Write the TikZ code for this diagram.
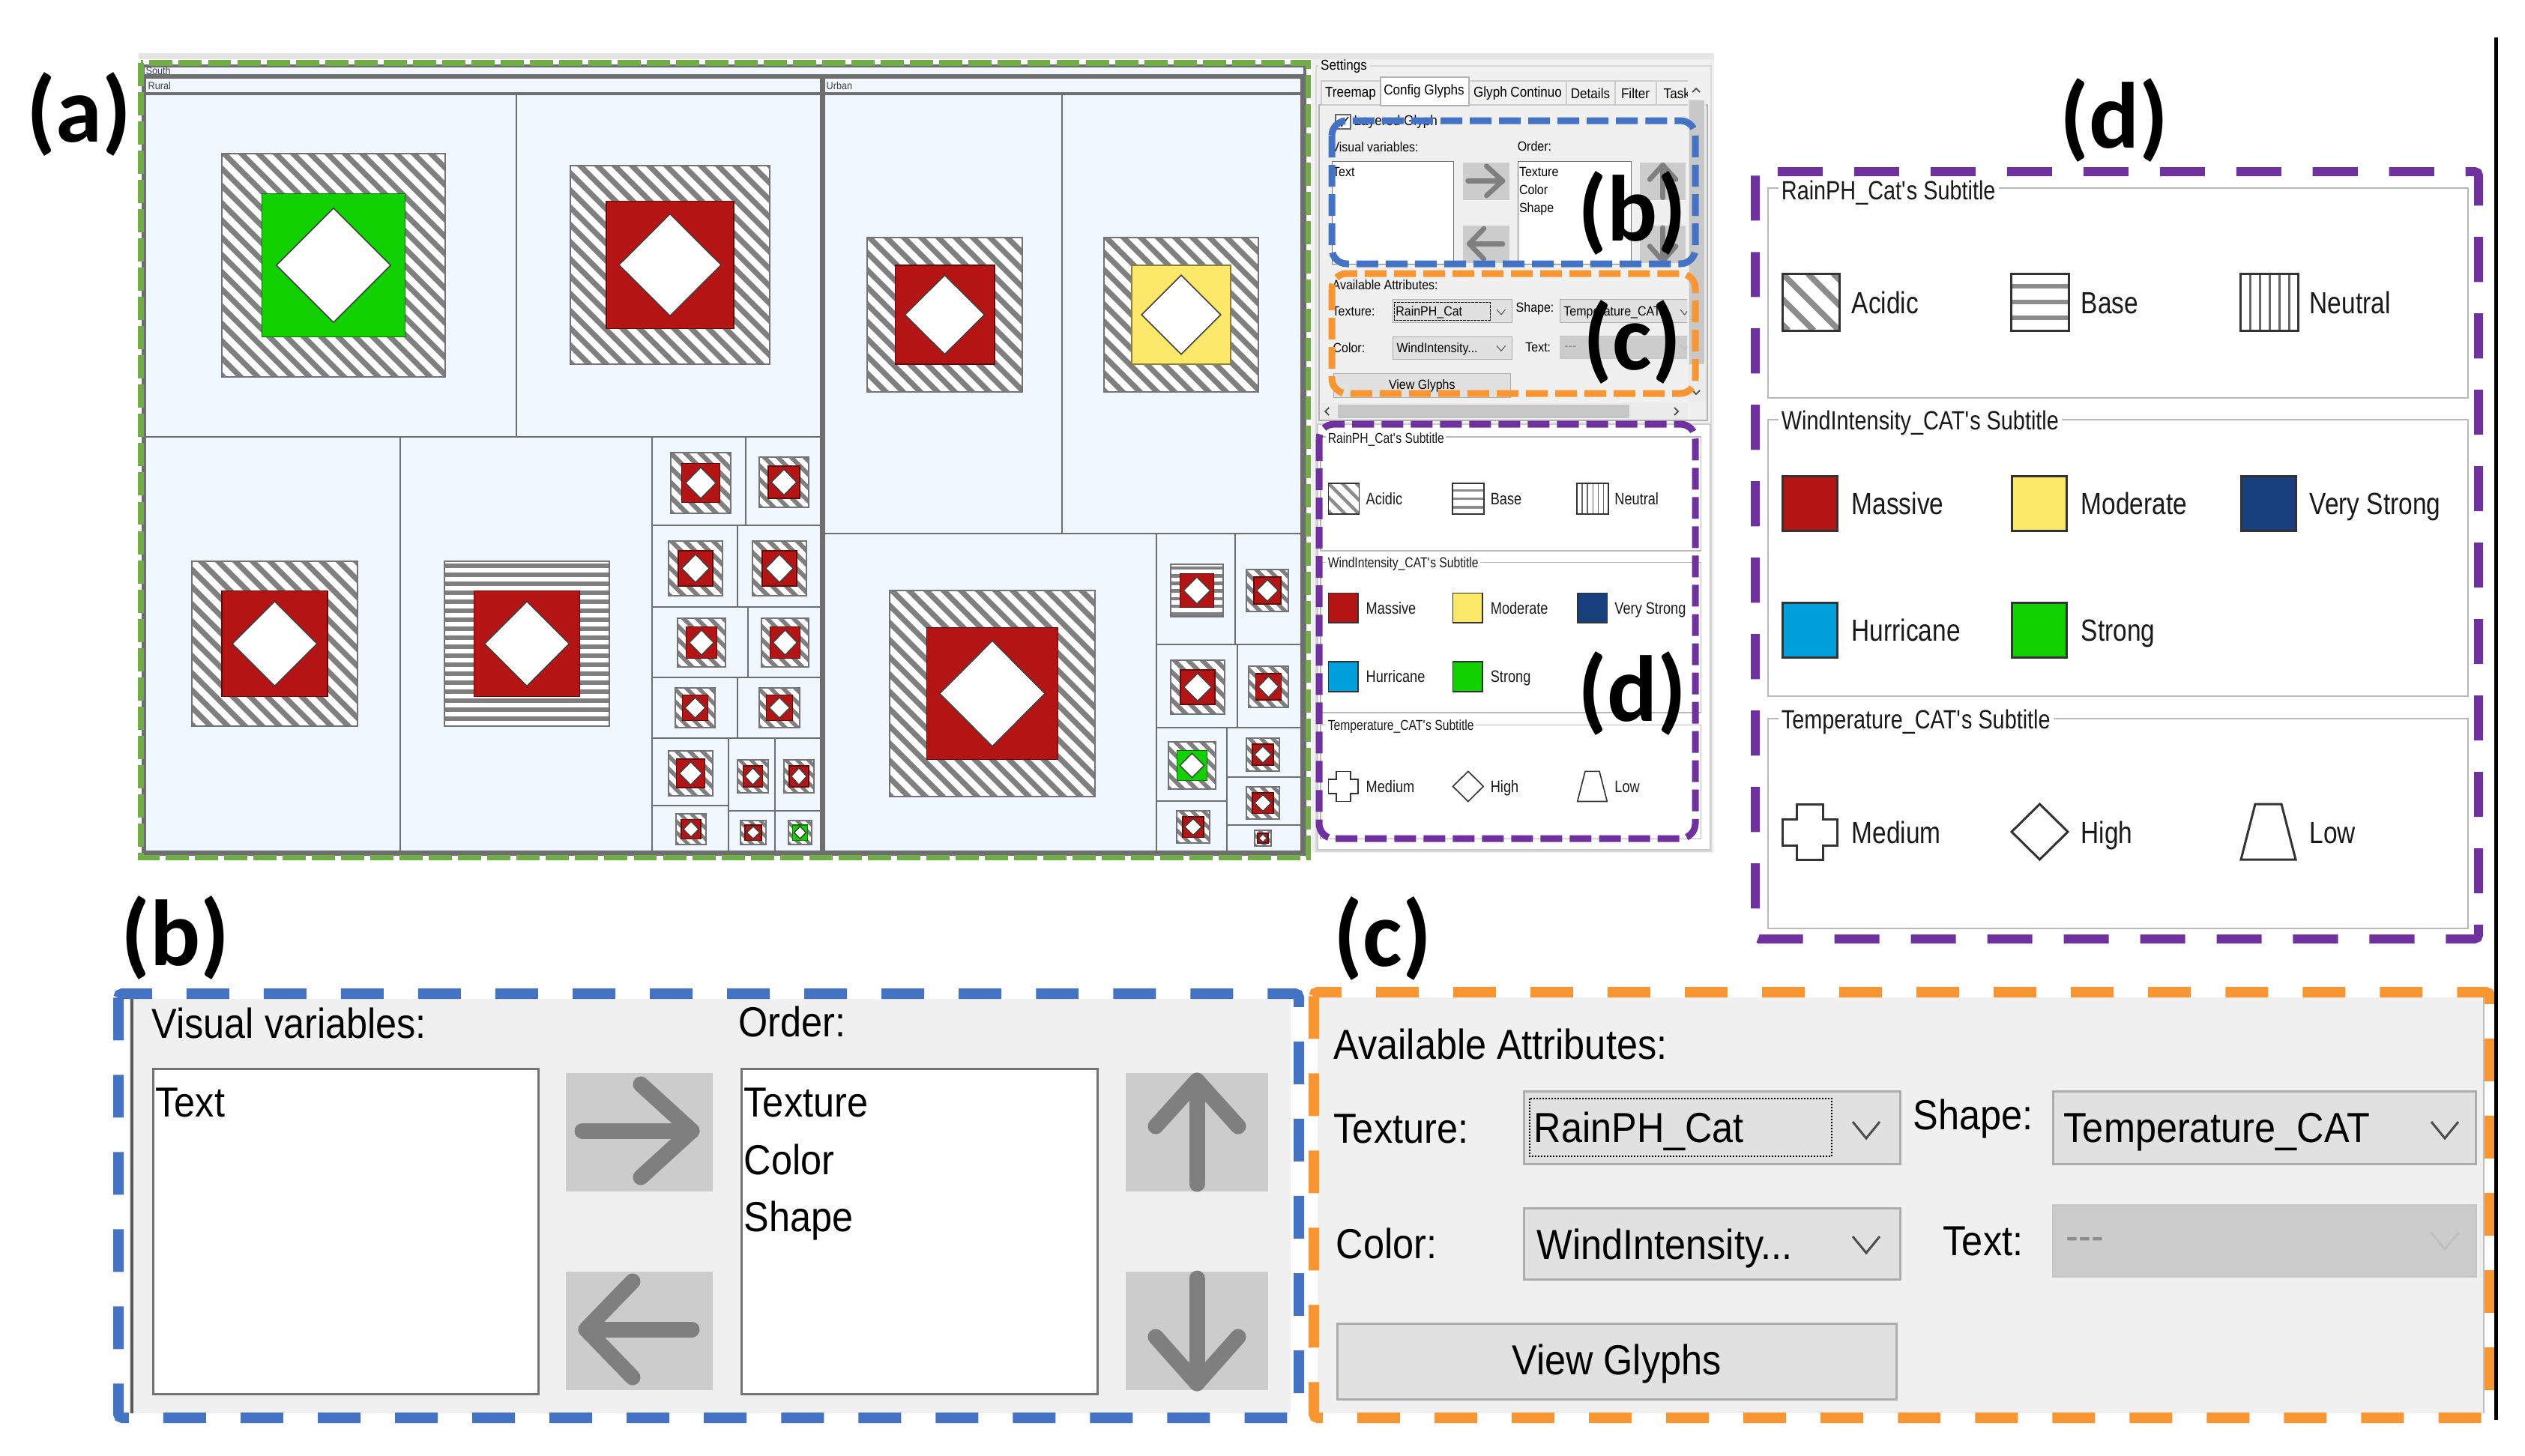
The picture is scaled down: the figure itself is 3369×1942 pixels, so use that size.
\documentclass[tikz,border=0pt]{standalone}
\usepackage{fontspec}
\setmainfont{Liberation Sans}
\newfontfamily\uifont{Liberation Sans}[FakeStretch=0.9]
\newfontfamily\lgfont{Liberation Sans}[FakeStretch=0.82]
\newfontfamily\lblfont{Carlito}
\def\pxpt{0.28453}
\def\lsc{1}
\definecolor{tmbg}{HTML}{F0F7FF}
\definecolor{tmline}{HTML}{6E6E6E}
\definecolor{tmred}{HTML}{B41414}
\definecolor{tmgreen}{HTML}{12D100}
\definecolor{tmyellow}{HTML}{FCE96A}
\definecolor{tmnavy}{HTML}{17407C}
\definecolor{tmcyan}{HTML}{00A0DC}
\definecolor{hatchgray}{HTML}{7F7F7F}
\definecolor{panelbg}{HTML}{F0F0F0}
\definecolor{btngray}{HTML}{CCCCCC}
\definecolor{arrgray}{HTML}{7F7F7F}
\definecolor{combofill}{HTML}{E1E1E1}
\definecolor{comboline}{HTML}{ADADAD}
\definecolor{dgreen}{HTML}{70AD47}
\definecolor{dblue}{HTML}{4472C4}
\definecolor{dorange}{HTML}{FA9632}
\definecolor{dpurple}{HTML}{7030A0}
\tikzset{
 lbl/.style={inner sep=0pt, font=\lblfont\bfseries\fontsize{35.6}{40}\selectfont},
 ui/.style={anchor=base west, inner sep=0pt, font=\uifont\fontsize{15.93}{19}\selectfont},
 tiny/.style={inner sep=0pt, font=\uifont\fontsize{5.4}{6.5}\selectfont},
 tmhead/.style={anchor=west, inner sep=0pt, font=\uifont\fontsize{4}{5}\selectfont, text=black!75},
 lgitem/.style={anchor=base west, inner sep=0pt, font=\lgfont\fontsize{11.6}{14}\selectfont, text=black!90},
 grptitle/.style={anchor=base west, inner xsep=1.2pt, inner ysep=0.5pt, fill=white, font=\lgfont\fontsize{10}{12}\selectfont, text=black!90},
 tmframe/.style={draw=tmline, line width=4*\pxpt pt},
 cell/.style={draw=tmline, line width=2.5*\pxpt pt},
 hatch/.style={draw=hatchgray},
 gframe/.style={draw=black!55, line width=1.5*\pxpt pt},
 listbox/.style={draw=black!55, fill=white, line width=3*\pxpt*\lsc pt},
 btnfill/.style={fill=btngray},
 arr/.style={draw=arrgray, line width=21*\pxpt*\lsc pt, line cap=round, line join=round},
 combo/.style={draw=comboline, fill=combofill, line width=3*\pxpt*\lsc pt},
 combodis/.style={draw=black!22, fill=btngray, line width=3*\pxpt*\lsc pt},
 focus/.style={draw=black, line width=2*\pxpt*\lsc pt, dash pattern=on 2*\pxpt*\lsc pt off 2*\pxpt*\lsc pt},
 chev/.style={draw=black!70, line width=3*\pxpt*\lsc pt},
 grpframe/.style={draw=black!28, line width=2.5*\pxpt*\lsc pt},
 iconbox/.style={draw=black!80, line width=3*\pxpt*\lsc pt},
 iconhatch/.style={draw=black!45, line width=8*\pxpt*\lsc pt},
 shp/.style={draw=black!80, fill=white, line width=3*\pxpt*\lsc pt, line join=miter},
 gdash/.style={draw=dgreen, line width=2pt, dash pattern=on 8.8pt off 2.3pt},
 bigdash/.style={line width=3.98pt, dash pattern=on 16.2pt off 13.1pt, rounded corners=1.5pt},
 pdash/.style={draw=dpurple, line width=3.41pt, dash pattern=on 17.1pt off 11.9pt, rounded corners=1.5pt},
 minidash/.style={line width=2.56pt, dash pattern=on 8.25pt off 2.85pt, rounded corners=5.7pt},
}
% treemap glyph: x1 y1 x2 y2 pattern(d/h) colour
\newcommand\glyph[6]{%
 \pgfmathsetmacro\gw{#3-#1}%
 \pgfmathsetmacro\gh{#4-#2}%
 \fill[white] (#1,#2) rectangle (#3,#4);
 \begin{scope}
  \clip (#1,#2) rectangle (#3,#4);
  \if d#5
   \pgfmathsetmacro\gp{min(23,10+0.12*\gw)}%
   \pgfmathtruncatemacro\gn{(\gw+\gh)/\gp+2}%
   \foreach \i in {0,...,\gn}{\draw[hatch, line width=0.32*\gp*\pxpt pt] ({#1-\gh+\i*\gp},{#2-2}) -- ++({\gh+4},{\gh+4});}
  \else
   \pgfmathsetmacro\gp{min(12,6+0.06*\gw)}%
   \pgfmathtruncatemacro\gn{\gh/\gp+1}%
   \foreach \i in {0,...,\gn}{\draw[hatch, line width=0.45*\gp*\pxpt pt] ({#1-1},{#2+(\i+0.5)*\gp}) -- ++({\gw+2},0);}
  \fi
 \end{scope}
 \draw[gframe] (#1,#2) rectangle (#3,#4);
 \draw[fill=#6, draw=#6!55!black, line width=1.5*\pxpt pt] ({#1+0.18*\gw},{#2+0.18*\gh}) rectangle ({#3-0.18*\gw},{#4-0.18*\gh});
 \draw[fill=white, draw=black!75, line width=1.5*\pxpt pt] ({(#1+#3)/2},{#2+0.244*\gh}) -- ({#3-0.244*\gw},{(#2+#4)/2}) -- ({(#1+#3)/2},{#4-0.244*\gh}) -- ({#1+0.244*\gw},{(#2+#4)/2}) -- cycle;
}
% panel (b) content in full-size coordinates
\newcommand\bcontent[1]{%
 \node[ui] (#1-vv) at (202,1385) {Visual variables:};
 \node[ui] (#1-ord) at (985,1383) {Order:};
 \draw[listbox] (204,1426) rectangle (718,1860);
 \node[ui] (#1-text) at (207,1490) {Text};
 \fill[btnfill] (755,1432) rectangle (951,1590);
 \draw[arr] (777,1509) -- (923,1509);
 \draw[arr] (855,1447) -- (923,1509) -- (855,1571);
 \fill[btnfill] (755,1697) rectangle (951,1855);
 \draw[arr] (782,1774) -- (923,1774);
 \draw[arr] (844,1710) -- (782,1774) -- (844,1838);
 \draw[listbox] (989,1426) rectangle (1464,1860);
 \node[ui] (#1-tex) at (992,1490) {Texture};
 \node[ui] (#1-col) at (992,1567) {Color};
 \node[ui] (#1-shp) at (992,1643) {Shape};
 \fill[btnfill] (1502,1432) rectangle (1692,1590);
 \draw[arr] (1597,1442) -- (1597,1580);
 \draw[arr] (1542,1503) -- (1597,1442) -- (1652,1503);
 \fill[btnfill] (1502,1697) rectangle (1692,1855);
 \draw[arr] (1597,1706) -- (1597,1846);
 \draw[arr] (1542,1784) -- (1597,1846) -- (1652,1784);
}
% panel (c) content in full-size coordinates
\newcommand\ccontent[1]{%
 \node[ui] (#1-aa) at (1779,1413) {Available Attributes:};
 \node[ui] (#1-txl) at (1779,1525) {Texture:};
 \draw[combo] (2033,1456) rectangle (2535,1553);
 \draw[focus] (2041,1466) rectangle (2444,1543);
 \node[ui] (#1-rain) at (2046,1524) {RainPH\_Cat};
 \draw[chev] (2472,1497) -- (2490,1519) -- (2508,1497);
 \node[ui] (#1-shl) at (2552,1507) {Shape:};
 \draw[combo] (2739,1456) rectangle (3303,1553);
 \node[ui] (#1-temp) at (2753,1524) {Temperature\_CAT};
 \draw[chev] (3244,1497) -- (3262,1519) -- (3280,1497);
 \node[ui] (#1-coll) at (1782,1679) {Color:};
 \draw[combo] (2033,1612) rectangle (2535,1707);
 \node[ui] (#1-wind) at (2050,1680) {WindIntensity...};
 \draw[chev] (2472,1650) -- (2490,1672) -- (2508,1650);
 \node[ui] (#1-txtl) at (2592,1675) {Text:};
 \draw[combodis] (2739,1608) rectangle (3303,1703);
 \node[ui, text=black!45] (#1-dash) at (2756,1668) {-{}-{}-};
 \draw[chev, draw=black!25] (3244,1645) -- (3262,1667) -- (3280,1645);
 \draw[combo] (1784,1766) rectangle (2530,1867);
 \node[ui, anchor=base] (#1-view) at (2157,1834) {View Glyphs};
}
% legend panel (d) in full-size coordinates
\newcommand\legendpanel[1]{%
 \draw[grpframe] (2359,251) rectangle (3293,531);
 \draw[grpframe] (2359,560) rectangle (3293,929);
 \draw[grpframe] (2359,959) rectangle (3293,1239);
 \node[grptitle] (#1-t1) at (2372,266) {RainPH\_Cat\textquotesingle s Subtitle};
 \node[grptitle] (#1-t2) at (2372,573) {WindIntensity\_CAT\textquotesingle s Subtitle};
 \node[grptitle] (#1-t3) at (2372,972) {Temperature\_CAT\textquotesingle s Subtitle};
 \fill[white] (2378,365) rectangle (2454,441);
 \begin{scope}
  \clip (2378,365) rectangle (2454,441);
  \foreach \t in {-68,-34,0,34,68}{\draw[iconhatch] ({2378+\t},365) -- ++(76,76);}
 \end{scope}
 \draw[iconbox] (2378,365) rectangle (2454,441);
 \foreach \yy in {382,403,424}{\draw[iconhatch, line width=6*\pxpt*\lsc pt] (2683,\yy) -- (2760,\yy);}
 \draw[iconbox] (2683,365) rectangle (2760,441);
 \foreach \xx in {3002,3015,3028,3041,3054}{\draw[draw=black!60, line width=3*\pxpt*\lsc pt] (\xx,365) -- (\xx,441);}
 \draw[iconbox] (2989,365) rectangle (3066,441);
 \node[lgitem] (#1-acidic) at (2470,418) {Acidic};
 \node[lgitem] (#1-base) at (2776,418) {Base};
 \node[lgitem] (#1-neutral) at (3081,418) {Neutral};
 \draw[iconbox, fill=tmred] (2378,635) rectangle (2451,708);
 \draw[iconbox, fill=tmyellow] (2684,635) rectangle (2757,708);
 \draw[iconbox, fill=tmnavy] (2990,635) rectangle (3063,708);
 \draw[iconbox, fill=tmcyan] (2378,804) rectangle (2451,877);
 \draw[iconbox, fill=tmgreen] (2684,804) rectangle (2757,877);
 \node[lgitem] (#1-massive) at (2470,686) {Massive};
 \node[lgitem] (#1-moderate) at (2776,686) {Moderate};
 \node[lgitem] (#1-vstrong) at (3081,686) {Very Strong};
 \node[lgitem] (#1-hurricane) at (2470,855) {Hurricane};
 \node[lgitem] (#1-strong) at (2776,855) {Strong};
 \draw[shp] (2397,1073) -- (2432,1073) -- (2432,1093) -- (2451,1093) -- (2451,1128) -- (2432,1128) -- (2432,1147) -- (2397,1147) -- (2397,1128) -- (2378,1128) -- (2378,1093) -- (2397,1093) -- cycle;
 \draw[shp] (2721.5,1073) -- (2759,1110) -- (2721.5,1147) -- (2684,1110) -- cycle;
 \draw[shp] (3009,1073) -- (3044,1073) -- (3063,1147) -- (2990,1147) -- cycle;
 \node[lgitem] (#1-medium) at (2470,1125) {Medium};
 \node[lgitem] (#1-high) at (2776,1125) {High};
 \node[lgitem] (#1-low) at (3081,1125) {Low};
}
\begin{document}
\begin{tikzpicture}[x=0.01cm,y=-0.01cm]
\useasboundingbox[fill=white] (0,0) rectangle (3369,1942);
% ---------------- (a) treemap ----------------
\fill[black!10] (185,71) rectangle (2287,79);
\fill[tmbg] (191,88) rectangle (1741,1140);
\draw[tmframe] (191,88) rectangle (1741,1140);
\draw[tmframe] (191,101) -- (1741,101);
\draw[tmframe] (193,103) rectangle (1096,1137);
\draw[tmframe] (193,125) -- (1096,125);
\draw[tmframe] (1099,103) rectangle (1737,1137);
\draw[tmframe] (1099,125) -- (1737,125);
\node[tmhead] (south) at (194,94) {South};
\node[tmhead] (rural) at (197,114) {Rural};
\node[tmhead] (urban) at (1102,114) {Urban};
% rural cells
\draw[cell] (689,125) -- (689,583);
\draw[cell] (193,583) -- (1096,583);
\draw[cell] (534,583) -- (534,1137);
\draw[cell] (870,583) -- (870,1137);
\foreach \yy in {701,810,904,985}{\draw[cell] (870,\yy) -- (1096,\yy);}
\draw[cell] (995,583) -- (995,701);
\draw[cell] (984,701) -- (984,810);
\draw[cell] (998,810) -- (998,904);
\draw[cell] (984,904) -- (984,985);
\draw[cell] (972,985) -- (972,1137);
\draw[cell] (1034,985) -- (1034,1137);
\draw[cell] (870,1075) -- (972,1075);
\draw[cell] (972,1082) -- (1096,1082);
% urban cells
\draw[cell] (1417,125) -- (1417,712);
\draw[cell] (1099,712) -- (1737,712);
\draw[cell] (1543,712) -- (1543,1137);
\draw[cell] (1543,860) -- (1737,860);
\draw[cell] (1648,712) -- (1648,860);
\draw[cell] (1543,971) -- (1737,971);
\draw[cell] (1651,860) -- (1651,971);
\draw[cell] (1637,971) -- (1637,1137);
\draw[cell] (1543,1069) -- (1637,1069);
\draw[cell] (1637,1037) -- (1737,1037);
\draw[cell] (1637,1101) -- (1737,1101);
% glyphs
\glyph{296}{205}{594}{503}{d}{tmgreen}
\glyph{761}{221}{1027}{486}{d}{tmred}
\glyph{256}{749}{477}{969}{d}{tmred}
\glyph{593}{749}{813}{969}{h}{tmred}
\glyph{895}{604}{975}{685}{d}{tmred}
\glyph{1013}{610}{1079}{677}{d}{tmred}
\glyph{892}{722}{964}{795}{d}{tmred}
\glyph{1004}{722}{1076}{795}{d}{tmred}
\glyph{904}{825}{968}{890}{d}{tmred}
\glyph{1016}{825}{1079}{890}{d}{tmred}
\glyph{901}{918}{954}{971}{d}{tmred}
\glyph{1013}{918}{1067}{971}{d}{tmred}
\glyph{892}{1002}{951}{1062}{d}{tmred}
\glyph{984}{1014}{1025}{1058}{d}{tmred}
\glyph{1046}{1014}{1086}{1058}{d}{tmred}
\glyph{902}{1086}{942}{1127}{d}{tmred}
\glyph{988}{1095}{1022}{1127}{d}{tmred}
\glyph{1052}{1095}{1083}{1127}{d}{tmgreen}
\glyph{1157}{317}{1364}{523}{d}{tmred}
\glyph{1473}{317}{1679}{523}{d}{tmyellow}
\glyph{1187}{788}{1461}{1063}{d}{tmred}
\glyph{1562}{753}{1632}{823}{h}{tmred}
\glyph{1663}{760}{1719}{816}{d}{tmred}
\glyph{1562}{881}{1634}{953}{d}{tmred}
\glyph{1666}{889}{1719}{944}{d}{tmred}
\glyph{1559}{990}{1622}{1053}{d}{tmgreen}
\glyph{1570}{1082}{1614}{1125}{d}{tmred}
\glyph{1663}{985}{1707}{1029}{d}{tmred}
\glyph{1663}{1050}{1707}{1093}{d}{tmred}
\glyph{1674}{1108}{1696}{1129}{d}{tmred}
\draw[gdash] (188,84) rectangle (1745,1144);
% ---------------- settings panel ----------------
\fill[panelbg] (1750,79) rectangle (2287,1138);
\draw[black!15] (1756,88) rectangle (2283,1136);
\node[tiny, anchor=west, fill=panelbg, inner xsep=1pt] (settings) at (1758,89) {Settings};
\draw[black!30, fill=panelbg] (1760,140) rectangle (2278,561);
\draw[black!20, fill=panelbg] (1763,108) rectangle (1842,140);
\node[tiny] (tab1) at (1802,125) {Treemap};
\draw[black!20, fill=panelbg] (1960,108) rectangle (2090,140);
\node[tiny] (tab3) at (2025,125) {Glyph Continuo};
\draw[black!20, fill=panelbg] (2090,108) rectangle (2155,140);
\node[tiny] (tab4) at (2122,125) {Details};
\draw[black!20, fill=panelbg] (2155,108) rectangle (2210,140);
\node[tiny] (tab5) at (2182,125) {Filter};
\draw[black!20, fill=panelbg] (2210,108) rectangle (2260,140);
\node[tiny, anchor=west] (tab6) at (2219,125) {Task};
\fill[panelbg] (2252,104) rectangle (2278,139);
\draw[black!30, fill=white] (1842,103) rectangle (1960,141);
\node[tiny] (tab2) at (1900,122) {Config Glyphs};
\draw[black!70, line width=0.5pt] (2258,123) -- (2263,118) -- (2268,123);
\fill[black!8] (2252,132) rectangle (2276,536);
\fill[black!22] (2254,134) rectangle (2274,486);
\draw[black!70, line width=0.5pt] (2258,521) -- (2263,526) -- (2268,521);
\fill[black!8] (1762,538) rectangle (2252,560);
\fill[black!22] (1785,540) rectangle (2174,558);
\draw[black!70, line width=0.5pt] (1773,544) -- (1768,549) -- (1773,554);
\draw[black!70, line width=0.5pt] (2234,544) -- (2239,549) -- (2234,554);
\draw[black!60, fill=white, line width=0.4pt] (1782,153) rectangle (1802,172);
\draw[black!80, line width=0.5pt] (1785,162) -- (1790,168) -- (1799,156);
\node[tiny, anchor=west] (layered) at (1806,163) {Layered Glyph};
\begin{scope}
 \clip (1762,141) rectangle (2251,536);
 \begin{scope}[shift={(1712.3,-237)}, scale=0.317, transform shape]
  \def\lsc{0.317}
  \bcontent{mb}
 \end{scope}
 \begin{scope}[shift={(1213.5,-61.6)}, scale=0.317, transform shape]
  \def\lsc{0.317}
  \ccontent{mc}
 \end{scope}
\end{scope}
\draw[minidash, draw=dblue] (1777,161) rectangle (2262,352);
\draw[minidash, draw=dorange] (1777,365) rectangle (2262,525);
\fill[white] (1758,566) rectangle (2282,1134);
\draw[black!20] (1758,566) rectangle (2282,1134);
\begin{scope}[shift={(481.1,446.7)}, scale=0.543, transform shape]
 \def\lsc{0.543}
 \legendpanel{md}
\end{scope}
\draw[minidash, draw=dpurple] (1760,566) rectangle (2262,1119);
% ---------------- (b) big panel ----------------
\fill[panelbg] (172,1333) rectangle (1722,1886);
\draw[black!65, line width=1pt] (176,1333) -- (176,1886);
\bcontent{bb}
\draw[bigdash, draw=dblue] (158,1326) rectangle (1733,1892);
% ---------------- (c) big panel ----------------
\fill[panelbg] (1758,1331) rectangle (3314,1886);
\draw[black!25] (3314,1331) -- (3314,1886);
\ccontent{bc}
\draw[bigdash, draw=dorange] (1753,1324) rectangle (3322,1892);
% ---------------- (d) big legend ----------------
\legendpanel{bd}
\draw[pdash] (2342,229) rectangle (3307,1253);
% right rule
\draw[black, line width=1.4pt] (3330,50) -- (3330,1895);
% labels
\node[lbl] (la) at (105,153) {(a)};
\node[lbl] (lb) at (234,1251) {(b)};
\node[lbl] (lc) at (1845,1252) {(c)};
\node[lbl] (ld) at (2821,161) {(d)};
\node[lbl] (lb2) at (2178,285) {(b)};
\node[lbl] (lc2) at (2178,457) {(c)};
\node[lbl] (ld2) at (2178,926) {(d)};
\end{tikzpicture}
\end{document}
